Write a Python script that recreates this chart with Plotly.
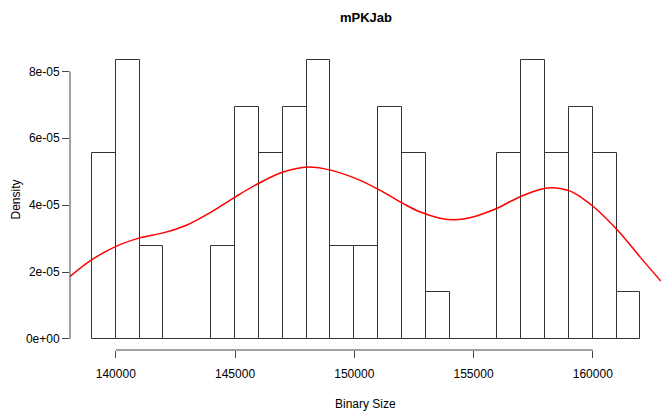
import plotly.graph_objects as go

# Histogram of binary sizes: 1000-byte bins from 139000 to 162000
bin_starts = [139000, 140000, 141000, 142000, 143000, 144000, 145000, 146000,
              147000, 148000, 149000, 150000, 151000, 152000, 153000, 154000,
              155000, 156000, 157000, 158000, 159000, 160000, 161000]
bin_counts = [4, 6, 2, 0, 0, 2, 5, 4, 5, 6, 2, 2, 5, 4, 1, 0, 0, 4, 6, 4, 5, 4, 1]
bin_width = 1000

# Kernel density estimate, sampled along the x range
kde_x = [138071, 138981, 139987, 141006, 141983, 142964, 144010,
         145017, 146038, 147015, 148063, 149044, 150050, 151069, 152046,
         152746, 153585, 154214, 154843, 155543, 156059, 156520, 157052,
         157778, 158268, 158616, 159064, 159538, 160071, 161077, 161970,
         162851]
kde_y = [1.86e-05, 2.36e-05, 2.76e-05, 3.02e-05, 3.17e-05, 3.40e-05, 3.80e-05,
         4.25e-05, 4.67e-05, 4.99e-05, 5.14e-05, 5.04e-05, 4.80e-05,
         4.45e-05, 4.05e-05, 3.80e-05, 3.61e-05, 3.56e-05, 3.62e-05, 3.78e-05,
         3.93e-05, 4.10e-05, 4.28e-05, 4.47e-05, 4.52e-05, 4.50e-05,
         4.42e-05, 4.22e-05, 3.93e-05, 3.22e-05, 2.46e-05, 1.73e-05]

x_ticks = [140000, 145000, 150000, 155000, 160000]
y_ticks = [0, 2e-05, 4e-05, 6e-05, 8e-05]
y_tick_text = ["0e+00", "2e-05", "4e-05", "6e-05", "8e-05"]

total = sum(bin_counts)
density = [c / (total * bin_width) for c in bin_counts]
centers = [s + bin_width / 2 for s in bin_starts]

axis_col = "#444444"
font_family = "Liberation Sans, Arial, sans-serif"

fig = go.Figure()
fig.add_trace(go.Bar(
    x=centers, y=density, width=[bin_width] * len(centers),
    marker=dict(color="white", line=dict(color="#333333", width=1)),
    showlegend=False, hoverinfo="skip",
))
fig.add_trace(go.Scatter(
    x=kde_x, y=kde_y, mode="lines",
    line=dict(color="#ff0000", width=1.5, shape="spline", smoothing=1.0),
    showlegend=False,
))

# Axis lines spanning only first to last tick
fig.add_shape(type="line", xref="x", yref="paper",
              x0=x_ticks[0], x1=x_ticks[-1], y0=0, y1=0,
              line=dict(color=axis_col, width=1))
fig.add_shape(type="line", xref="paper", yref="y",
              x0=0, x1=0, y0=y_ticks[0], y1=y_ticks[-1],
              line=dict(color=axis_col, width=1))

fig.update_layout(
    width=661, height=414,
    margin=dict(l=70, r=0, t=49, b=64),
    plot_bgcolor="white", paper_bgcolor="white",
    font=dict(family=font_family, size=12, color="black"),
    bargap=0,
    xaxis=dict(range=[138080, 162860], showgrid=False, zeroline=False,
               showline=False, tickmode="array", tickvals=x_ticks,
               ticktext=[str(v) for v in x_ticks],
               ticks="outside", ticklen=7, tickcolor=axis_col,
               ticklabelstandoff=6,
               tickfont=dict(size=12), fixedrange=True),
    yaxis=dict(range=[-3.33e-06, 8.67e-05], showgrid=False, zeroline=False,
               showline=False, tickmode="array", tickvals=y_ticks,
               ticktext=y_tick_text, ticks="outside", ticklen=7,
               tickcolor=axis_col, tickfont=dict(size=12), fixedrange=True),
    annotations=[
        dict(text="<b>mPKJab</b>", x=0.5, xref="paper", y=1 + (49 - 17.5) / 301,
             yref="paper", yanchor="middle", xanchor="center",
             showarrow=False, font=dict(size=13)),
        dict(text="Binary Size", x=0.5, xref="paper", y=-(404 - 350) / 301,
             yref="paper", yanchor="middle", xanchor="center",
             showarrow=False, font=dict(size=12)),
        dict(text="Density", x=-(70 - 15) / 591, xref="paper", y=0.5,
             yref="paper", xanchor="center", yanchor="middle",
             textangle=-90, showarrow=False, font=dict(size=12)),
    ],
)

fig.write_html("out.html")
